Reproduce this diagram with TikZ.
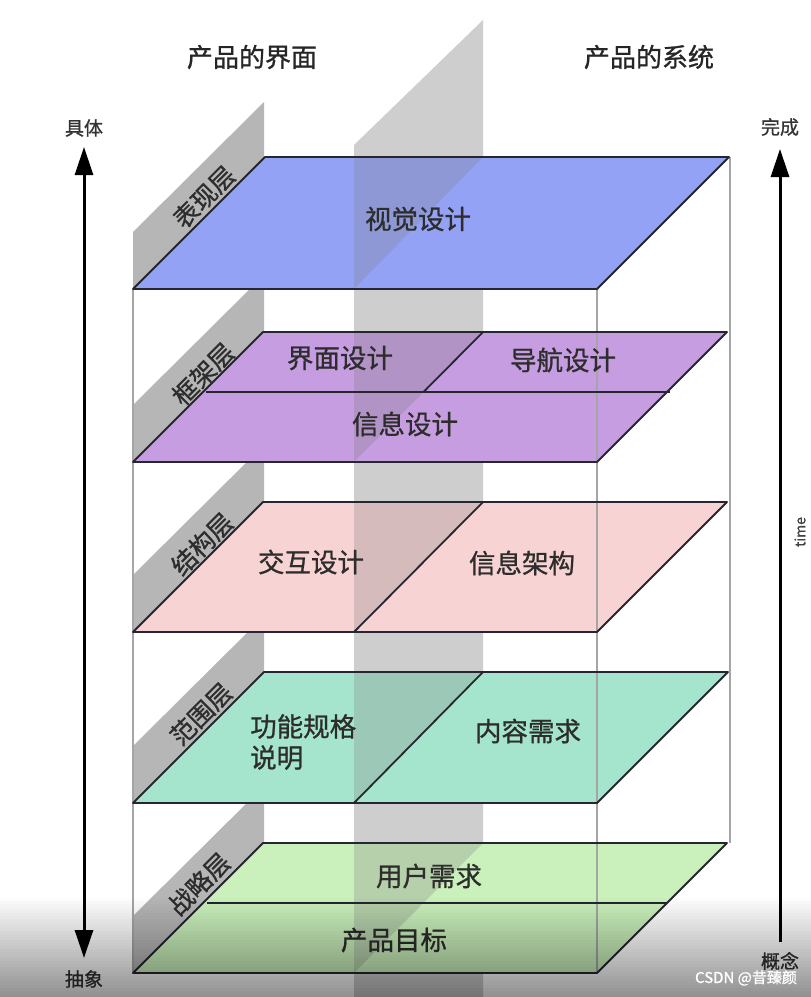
\documentclass[tikz,border=0pt]{standalone}
\usepackage{fontspec}
\setmainfont{Noto Sans CJK SC}[FakeBold=0.9]
\usetikzlibrary{arrows.meta}
\definecolor{cBlue}{RGB}{148,162,246}
\definecolor{cPurple}{RGB}{197,157,224}
\definecolor{cPink}{RGB}{247,211,211}
\definecolor{cTeal}{RGB}{166,229,205}
\definecolor{cGreen}{RGB}{202,240,187}
\definecolor{bandgray}{RGB}{206,206,206}
\definecolor{tabgray}{RGB}{182,182,182}
\definecolor{vgray}{RGB}{165,165,165}
\definecolor{edgedark}{RGB}{38,38,48}
\definecolor{txtdark}{RGB}{45,45,45}
\tikzset{
  planeline/.style={draw=edgedark, line width=1.8pt, line join=round},
  wallshade/.style={fill=black!50, fill opacity=0.28},
  vline/.style={draw=vgray, line width=1.2pt},
  layertxt/.style={font=\fontsize{26.5}{31}\selectfont, text=txtdark, inner sep=0pt},
  tabtxt/.style={font=\fontsize{25}{28}\selectfont, text=txtdark, rotate=45, inner sep=0pt},
  headtxt/.style={font=\fontsize{26}{30}\selectfont, text=black!85, inner sep=0pt},
  sidetxt/.style={font=\fontsize{19}{22}\selectfont, text=black!80, inner sep=0pt},
  bigarrow/.style={draw=black, line width=3pt},
}
\newcommand{\myplanefill}[3]{%
  \fill[#3] ({133+#2-#1},#1) -- ({597+#2-#1},#1) -- (597,#2) -- (133,#2) -- cycle;
  \fill[wallshade] (354,#1) -- (483,#1) -- (354,#2) -- cycle;
}
\newcommand{\myplaneedge}[2]{%
  \draw[planeline] ({133+#2-#1},#1) -- ({597+#2-#1},#1) -- (597,#2) -- (133,#2) -- cycle;
}
\begin{document}
\begin{tikzpicture}[x=1pt,y=-1pt]
\useasboundingbox (0,0) rectangle (811,997);
\fill[white] (0,0) rectangle (811,997);
% central wall
\fill[bandgray] (354,145) -- (483,20) -- (483,997) -- (354,997) -- cycle;
% left tabs
\foreach \B in {289,462,632,803,973} {
  \fill[tabgray] (133,\B) -- ({133+131},{\B-131}) -- ({133+131},{\B-187}) -- (133,{\B-57}) -- cycle;
}
% plane fills
\myplanefill{157}{289}{cBlue}
\myplanefill{332}{462}{cPurple}
\myplanefill{502}{632}{cPink}
\myplanefill{672}{803}{cTeal}
\myplanefill{843}{973}{cGreen}
% vertical frame lines
\draw[vline] (133,289) -- (133,973);
\draw[vline] (597,289) -- (597,973);
\draw[vline] (730,157) -- (730,843);
% plane edges and inner lines
\myplaneedge{157}{289}
\myplaneedge{332}{462}
\draw[planeline] (206,392) -- (670,392);
\draw[planeline] (483,332) -- (423.5,392);
\myplaneedge{502}{632}
\draw[planeline] (483,502) -- (354,632);
\myplaneedge{672}{803}
\draw[planeline] (483,672) -- (354,803);
\myplaneedge{843}{973}
\draw[planeline] (207,903) -- (667,903);
% headers
\node[headtxt] (h1) at (252,57) {产品的界面};
\node[headtxt] (h2) at (649,57) {产品的系统};
% side labels
\node[sidetxt] (jt) at (84,128) {具体};
\node[sidetxt] (cx) at (84,979) {抽象};
\node[sidetxt] (wc) at (780,127) {完成};
\node[sidetxt] (gn) at (780,961) {概念};
\node[font=\fontsize{14}{16}\selectfont, text=black!75, rotate=90, inner sep=0pt] (tm) at (800,532) {time};
% arrows
\coordinate (la) at (84,147);
\coordinate (lb) at (84,958);
\coordinate (ra) at (780,149);
\coordinate (rb) at (780,942);
\draw[bigarrow, {Triangle[length=28pt,width=18pt]}-{Triangle[length=28pt,width=18pt]}] (la) -- (lb);
\draw[bigarrow, -{Triangle[length=28pt,width=18pt]}] (rb) -- (ra);
% tab labels
\node[tabtxt] (t1) at (204,197) {表现层};
\node[tabtxt] (t2) at (203,374) {框架层};
\node[tabtxt] (t3) at (202,544) {结构层};
\node[tabtxt] (t4) at (201,714) {范围层};
\node[tabtxt] (t5) at (199,884) {战略层};
% layer texts
\node[layertxt] (v1) at (418,219) {视觉设计};
\node[layertxt] (k1) at (340,358) {界面设计};
\node[layertxt] (k2) at (563,360) {导航设计};
\node[layertxt] (k3) at (405,424) {信息设计};
\node[layertxt] (s1) at (311,562) {交互设计};
\node[layertxt] (s2) at (522,563) {信息架构};
\node[layertxt, align=left, anchor=north west] (f1) at (250,714) {功能规格\\[0pt]说明};
\node[layertxt] (f2) at (528,731) {内容需求};
\node[layertxt] (z1) at (429,876) {用户需求};
\node[layertxt] (z2) at (394,940) {产品目标};
% bottom darkening
\foreach \i in {0,...,33} {
  \fill[black, fill opacity={0.013*\i}] (0,{895+3*\i}) rectangle (811,{898+3*\i});
}
\node[font=\fontsize{15}{18}\selectfont, text=white, inner sep=0pt] (wm) at (746,978) {CSDN @昔臻颜};
\end{tikzpicture}
\end{document}
